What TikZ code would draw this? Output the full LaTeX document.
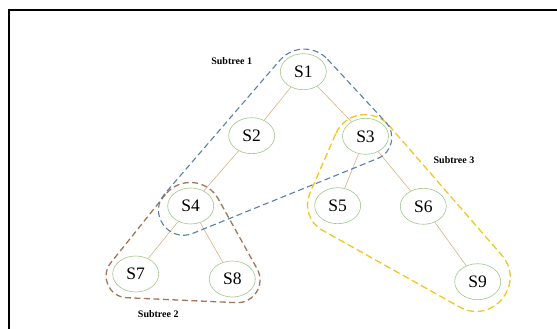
\documentclass[tikz,border=0pt]{standalone}
\usepackage{fontspec}
\setmainfont{Liberation Serif}
\usetikzlibrary{calc,shapes.geometric}
\definecolor{nodegreen}{RGB}{160,198,140}
\definecolor{edgetan}{RGB}{215,178,135}
\definecolor{hullblue}{RGB}{92,127,166}
\definecolor{hullyellow}{RGB}{238,200,35}
\definecolor{hullbrown}{RGB}{162,118,88}
\begin{document}
\begin{tikzpicture}[x=1pt,y=1pt,
  st/.style={ellipse, draw=nodegreen, line width=0.6pt, minimum width=46pt, minimum height=36pt, inner sep=0pt, font=\fontsize{17.5}{20}\selectfont},
  edge/.style={draw=edgetan, line width=0.6pt},
  lab/.style={font=\fontsize{10}{12}\selectfont\bfseries, inner sep=0pt},
  hull/.style={line width=1.3pt, dash pattern=on 6pt off 3.5pt, line cap=butt}]
\useasboundingbox (0,0) rectangle (557,329);
\draw[line width=2pt] (8.7,0) -- (8.7,319.2) -- (557,319.2);

% nodes
\node[st] (S1) at (303.3,257.3) {S1};
\node[st] (S2) at (251.7,193.3) {S2};
\node[st] (S3) at (365.5,192.7) {S3};
\node[st] (S4) at (190.7,123.0) {S4};
\node[st] (S5) at (337.7,123.3) {S5};
\node[st] (S6) at (423.3,122.7) {S6};
\node[st] (S7) at (135.7,55.0) {S7};
\node[st] (S8) at (232.3,50.0) {S8};
\node[st] (S9) at (477.7,47.3) {S9};

% edges
\draw[edge] (S1) -- (S2);
\draw[edge] (S1) -- (S3);
\draw[edge] (S2) -- (S4);
\draw[edge] (S3) -- (S5);
\draw[edge] (S3) -- (S6);
\draw[edge] (S4) -- (S7);
\draw[edge] (S4) -- (S8);
\draw[edge] (S6) -- (S9);

% labels
\node[lab] (L1) at (231.7,268.3) {Subtree 1};
\node[lab] (L2) at (158.3,15.0) {Subtree 2};
\node[lab] (L3) at (454.0,169.0) {Subtree 3};

% hull corners
\coordinate (Y1) at (355.9,241.6);
\coordinate (Y2) at (299.4,111.6);
\coordinate (Y3) at (629.4,-73);
\coordinate (C1) at (195.2,171.7);
\coordinate (C2) at (84.4,33.2);
\coordinate (C3) at (276.9,24.5);
\coordinate (B1) at (303.3,295.9);
\coordinate (B2) at (408,182.8);
\coordinate (B3) at (97.2,56.9);

% Subtree 3 (yellow)
\draw[hull, hullyellow, dash pattern=on 7pt off 3.5pt]
  ($(Y1)!50.7pt!(Y2)$) -- ($(Y2)!26.2pt!(Y1)$)
  .. controls ($(Y2)!11.3pt!(Y1)$) and ($(Y2)!11.3pt!(Y3)$) .. ($(Y2)!26.2pt!(Y3)$)
  -- ($(Y3)!194.8pt!(Y2)$)
  .. controls ($(Y3)!156.7pt!(Y2)$) and ($(Y3)!156.7pt!(Y1)$) .. ($(Y3)!194.8pt!(Y1)$)
  -- ($(Y1)!50.7pt!(Y3)$)
  .. controls ($(Y1)!27.1pt!(Y3)$) and ($(Y1)!27.1pt!(Y2)$) .. ($(Y1)!50.7pt!(Y2)$);

% Subtree 2 (brown)
\draw[hull, hullbrown]
  ($(C1)!47.6pt!(C2)$) -- ($(C2)!42.3pt!(C1)$)
  .. controls ($(C2)!24.7pt!(C1)$) and ($(C2)!24.7pt!(C3)$) .. ($(C2)!42.3pt!(C3)$)
  -- ($(C3)!40.7pt!(C2)$)
  .. controls ($(C3)!22.9pt!(C2)$) and ($(C3)!22.9pt!(C1)$) .. ($(C3)!40.7pt!(C1)$)
  -- ($(C1)!47.6pt!(C3)$)
  .. controls ($(C1)!24.9pt!(C3)$) and ($(C1)!24.9pt!(C2)$) .. ($(C1)!47.6pt!(C2)$);

% Subtree 1 (blue)
\draw[hull, hullblue, line width=1.1pt]
  ($(B1)!35.8pt!(B2)$) -- ($(B2)!32.7pt!(B1)$)
  .. controls ($(B2)!16.9pt!(B1)$) and ($(B2)!16.9pt!(B3)$) .. ($(B2)!32.7pt!(B3)$)
  -- ($(B3)!103.3pt!(B2)$)
  .. controls ($(B3)!77.1pt!(B2)$) and ($(B3)!77.1pt!(B1)$) .. ($(B3)!103.3pt!(B1)$)
  -- ($(B1)!35.8pt!(B3)$)
  .. controls ($(B1)!16.7pt!(B3)$) and ($(B1)!16.7pt!(B2)$) .. ($(B1)!35.8pt!(B2)$);
\end{tikzpicture}
\end{document}
